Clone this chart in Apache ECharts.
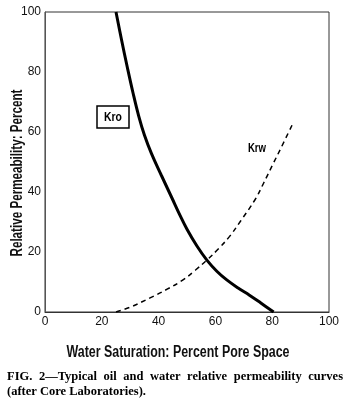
<!DOCTYPE html>
<html>
<head>
<meta charset="utf-8">
<script src="https://cdn.jsdelivr.net/npm/echarts@6/dist/echarts.min.js"></script>
<style>
  html, body { margin: 0; padding: 0; background: #fff; }
  #chart { width: 350px; height: 413px; }
</style>
</head>
<body>
<div id="chart"></div>
<script>
// readings from the figure: [water saturation %, relative permeability %]
var kroData = [
  [25, 100], [27, 90.5], [29, 81.5], [31, 73], [33, 65.3], [35, 59],
  [37.5, 52.8], [41, 45.5], [44.7, 38], [47.5, 32.3], [50, 27.6],
  [53.5, 22], [57, 17.3], [60.5, 13.6], [64, 10.7], [68, 8],
  [72, 5.6], [76, 3], [80.5, 0]
];
var krwData = [
  [25, 0], [30, 1.6], [37, 4.7], [43, 7.6], [48.6, 10.7], [53, 14],
  [57, 17.3], [61, 21], [65, 25.2], [69, 30.5], [74, 37.5], [77, 43],
  [80, 48.8], [83, 54.5], [87, 62.3]
];
var xTicks = [0, 20, 40, 60, 80, 100];
var yTicks = [0, 20, 40, 60, 80, 100];
var xTitle = 'Water Saturation: Percent Pore Space';
var yTitle = 'Relative Permeability: Percent';
var caption1 = 'FIG. 2\u2014Typical oil and water relative permeability curves';
var caption2 = '(after Core Laboratories).';

var sans = '"Liberation Sans", Arial, sans-serif';
var titleFont = 'bold 16px ' + sans;
var capFont = 'bold 12.5px "Liberation Serif", serif';

// measuring text so the condensed titles and the justified caption fit
var ctx = document.createElement('canvas').getContext('2d');
function textWidth(txt, font) { ctx.font = font; return ctx.measureText(txt).width; }

// justify caption line 1 between x=7 and x=343
var capEls = [];
var words = caption1.split(' ');
var wsum = 0;
words.forEach(function (w) { wsum += textWidth(w, capFont); });
var gap = (336 - wsum) / (words.length - 1);
var squeeze = gap < 2.5 ? (336 - 2.5 * (words.length - 1)) / wsum : 1;
if (squeeze < 1) gap = 2.5;
var cx = 7;
words.forEach(function (w) {
  capEls.push({ type: 'text', x: cx, y: 377, scaleX: squeeze,
    style: { text: w, fill: '#000', font: capFont, verticalAlign: 'middle' } });
  cx += textWidth(w, capFont) * squeeze + gap;
});
capEls.push({ type: 'text', x: 7, y: 392, scaleX: squeeze,
  style: { text: caption2, fill: '#000', font: capFont, verticalAlign: 'middle' } });

var chart = echarts.init(document.getElementById('chart'));
chart.setOption({
  animation: false,
  grid: { left: 45, right: 21, top: 12, bottom: 101, containLabel: false, outerBoundsMode: 'none',
    show: true, borderColor: '#333', borderWidth: 1 },
  xAxis: {
    type: 'value', min: 0, max: 100, interval: 20,
    axisLine: { lineStyle: { color: '#333' } },
    axisTick: { show: false },
    splitLine: { show: false },
    axisLabel: { color: '#111', fontFamily: sans, fontSize: 12, margin: 4,
      formatter: function (v) { return xTicks.indexOf(v) >= 0 ? v : ''; } }
  },
  yAxis: {
    type: 'value', min: 0, max: 100, interval: 20,
    axisLine: { lineStyle: { color: '#555' } },
    axisTick: { show: false },
    splitLine: { show: false },
    axisLabel: { color: '#111', fontFamily: sans, fontSize: 12, margin: 4,
      formatter: function (v) { return yTicks.indexOf(v) >= 0 ? v : ''; } }
  },
  series: [
    {
      name: 'Kro', type: 'line', data: kroData, smooth: 0.4,
      showSymbol: false, lineStyle: { color: '#000', width: 3 }
    },
    {
      name: 'Krw', type: 'line', data: krwData, smooth: 0.4,
      showSymbol: false, lineStyle: { color: '#000', width: 1.5, type: [5, 4] }
    }
  ],
  graphic: [
    // axis titles, squeezed to the condensed width of the original lettering
    { type: 'text', x: 178, y: 353, scaleX: 223 / textWidth(xTitle, titleFont),
      style: { text: xTitle, fill: '#111', font: titleFont, align: 'center', verticalAlign: 'middle' } },
    { type: 'text', x: 18, y: 173, rotation: Math.PI / 2, scaleX: 167 / textWidth(yTitle, titleFont),
      style: { text: yTitle, fill: '#111', font: titleFont, align: 'center', verticalAlign: 'middle' } },
    { type: 'rect', shape: { x: 97, y: 106, width: 32, height: 22 },
      style: { fill: '#fff', stroke: '#000', lineWidth: 1.5 } },
    { type: 'text', x: 113, y: 117, scaleX: 0.8,
      style: { text: 'Kro', fill: '#000', font: 'bold 13px ' + sans, align: 'center', verticalAlign: 'middle' } },
    { type: 'text', x: 257, y: 149, scaleX: 0.8,
      style: { text: 'Krw', fill: '#000', font: 'bold 12px ' + sans, align: 'center', verticalAlign: 'middle' } }
  ].concat(capEls)
});
</script>
</body>
</html>
